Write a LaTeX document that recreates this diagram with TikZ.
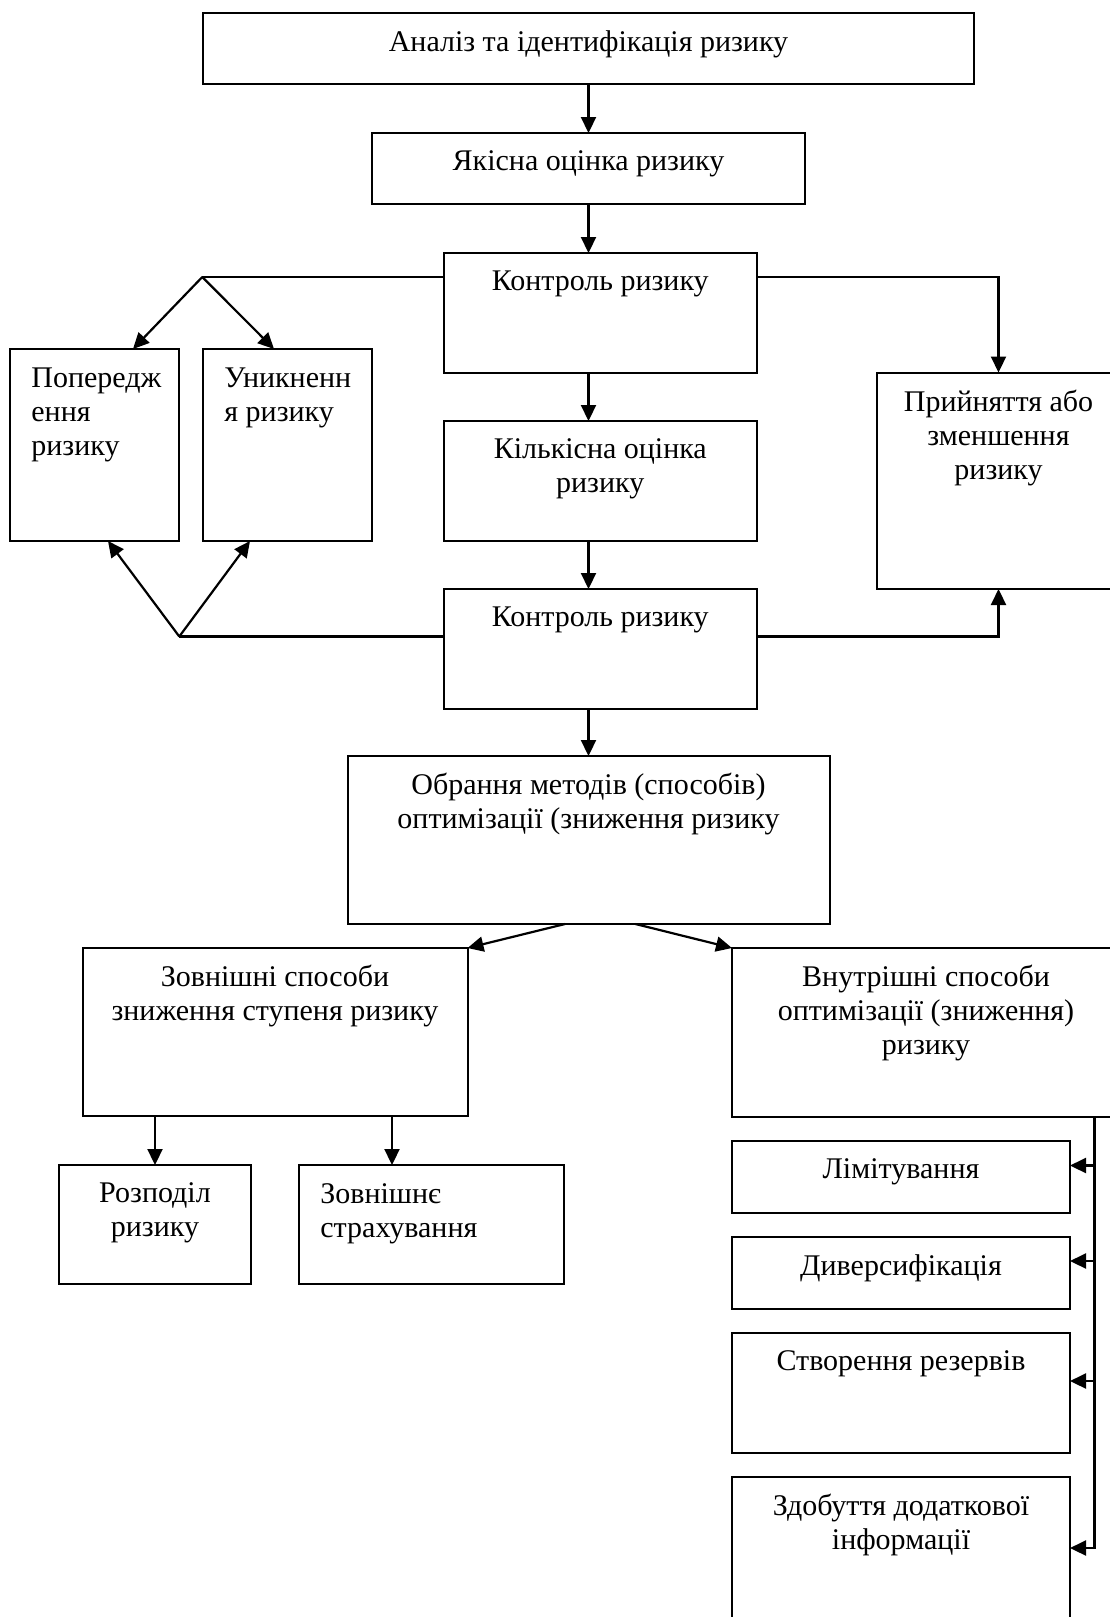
\documentclass[tikz,border=0pt]{standalone}
\usepackage{fontspec}
\setmainfont{Liberation Serif}
\usetikzlibrary{arrows.meta,calc}
\tikzset{
  blk/.style={draw, line width=1pt, anchor=north west, inner sep=0pt, outer sep=0pt},
  txt/.style={anchor=north, yshift=-8.5pt, align=center, inner sep=0pt, font=\fontsize{15}{17}\selectfont},
  txtl/.style={anchor=north west, xshift=10.5pt, yshift=-9pt, align=left, inner sep=0pt, font=\fontsize{15}{17}\selectfont},
  arr/.style={line width=1.1pt, -{Triangle[length=8pt,width=7.5pt]}},
  ln/.style={line width=1.1pt}
}
\begin{document}
\begin{tikzpicture}[x=0.5pt, y=-0.5pt]
  \useasboundingbox (0,0) rectangle (1109,1617);
  % main column
  \node[blk, minimum width=385.5pt, minimum height=35.5pt, label={[txt]north:Аналіз та ідентифікація ризику}] (analiz) at (203,13) {};
  \node[blk, minimum width=216.5pt, minimum height=35.5pt, label={[txt]north:Якісна оцінка ризику}] (yakisna) at (372,133) {};
  \node[blk, minimum width=156.75pt, minimum height=59.75pt, label={[txt]north:Контроль ризику}] (kontrol1) at (443.5,253) {};
  \node[blk, minimum width=156.75pt, minimum height=60pt, label={[txt]north:{Кількісна оцінка\\ризику}}] (kilk) at (443.5,421) {};
  \node[blk, minimum width=156.75pt, minimum height=60pt, label={[txt]north:Контроль ризику}] (kontrol2) at (443.5,589) {};
  \node[blk, minimum width=241pt, minimum height=84pt, label={[txt]north:{Обрання методів (способів)\\оптимізації (зниження ризику}}] (obran) at (347.5,756) {};
  % side boxes
  \node[blk, minimum width=84.5pt, minimum height=96pt, label={[txtl]north west:{Попередж\\ення\\ризику}}] (poper) at (10,349) {};
  \node[blk, minimum width=84.5pt, minimum height=96pt, label={[txtl]north west:{Уникненн\\я ризику}}] (unyk) at (203,349) {};
  \node[blk, minimum width=121.5pt, minimum height=108.25pt, label={[txt]north:{Прийняття або\\зменшення\\ризику}}] (pryin) at (877,372.5) {};
  % lower part
  \node[blk, minimum width=192.5pt, minimum height=84pt, label={[txt]north:{Зовнішні способи\\зниження ступеня ризику}}] (zovn) at (82.5,948) {};
  \node[blk, minimum width=194pt, minimum height=84.25pt, label={[txt]north:{Внутрішні способи\\оптимізації (зниження)\\ризику}}] (vnutr) at (732,948) {};
  \node[blk, minimum width=96pt, minimum height=59.5pt, label={[txt]north:{Розподіл\\ризику}}] (rozp) at (59,1165) {};
  \node[blk, minimum width=132.5pt, minimum height=59.5pt, label={[txtl]north west:{Зовнішнє\\страхування}}] (strakh) at (299,1165) {};
  \node[blk, minimum width=169pt, minimum height=35.75pt, label={[txt]north:Лімітування}] (limit) at (732,1141) {};
  \node[blk, minimum width=169pt, minimum height=35.75pt, label={[txt]north:Диверсифікація}] (divers) at (732,1237) {};
  \node[blk, minimum width=169pt, minimum height=59.75pt, label={[txt]north:Створення резервів}] (rezerv) at (732,1333) {};
  \node[blk, minimum width=169pt, minimum height=81.5pt, label={[txt]north:{Здобуття додаткової\\інформації}}] (info) at (732,1477) {};

  \coordinate (br1) at (202.3,277);
  \coordinate (br2) at (179.3,636.5);
  \coordinate (s2) at (392,0);
  \coordinate (busend) at (1094.5,1548);

  % vertical flow
  \draw[arr] (analiz.south) -- (yakisna.north);
  \draw[arr] (yakisna.south) -- (yakisna.south |- kontrol1.north);
  \draw[arr] (kontrol1.south -| yakisna.south) -- (kilk.north -| yakisna.south);
  \draw[arr] (kilk.south -| yakisna.south) -- (kontrol2.north -| yakisna.south);
  \draw[arr] (kontrol2.south -| obran.north) -- (obran.north);

  % control branches
  \draw[ln] (br1 -| kontrol1.west) -- (br1);
  \draw[arr] (br1) -- ($(poper.north)+(38.5,0)$);
  \draw[arr] (br1) -- ($(unyk.north)+(-13.5,0)$);
  \draw[ln] (br2 -| kontrol2.west) -- (br2);
  \draw[arr] (br2) -- ($(poper.south)+(13.5,0)$);
  \draw[arr] (br2) -- ($(unyk.south)+(-37.5,0)$);
  \draw[arr] (br1 -| kontrol1.east) -- (br1 -| pryin.north) -- (pryin.north);
  \draw[arr] (br2 -| kontrol2.east) -- (br2 -| pryin.south) -- (pryin.south);

  % methods
  \draw[arr] ($(obran.south)+(-23.5,0)$) -- (zovn.north east);
  \draw[arr] ($(obran.south)+(47,0)$) -- (vnutr.north west);
  \draw[arr] (rozp.north |- zovn.south) -- (rozp.north);
  \draw[arr] (zovn.south -| s2) -- (strakh.north -| s2);

  % internal ways bus
  \draw[arr] (vnutr.south -| busend) -- (busend) -- (busend -| info.east);
  \foreach \b/\y in {limit/1165.5, divers/1261, rezerv/1381}
    \draw[arr] (busend |- 0,\y) -- (\b.east |- 0,\y);
\end{tikzpicture}
\end{document}
